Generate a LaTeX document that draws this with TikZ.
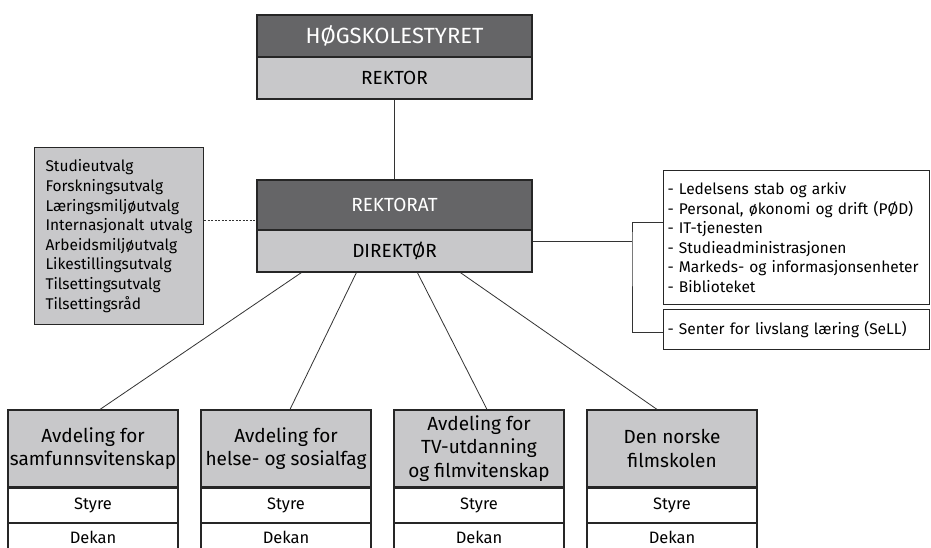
\documentclass[tikz,border=0pt]{standalone}
\usepackage{fontspec}
\setmainfont{Fira Sans}
\usepackage{tikz}
\usetikzlibrary{calc}
\usetikzlibrary{positioning}
\definecolor{darkgrey}{HTML}{656567}
\definecolor{lightgrey}{HTML}{C8C8CA}
\tikzset{%
  every unit/.style={
    rectangle,
    draw=black!85,
    line width=1.2pt,
    inner sep=0pt,
    align=center
  },
  unit head/.style={
    fill=darkgrey,
    text=white,
    font=\fontsize{22}{26}\selectfont
  },
  unit sub/.style={
    fill=lightgrey,
    font=\fontsize{19}{23}\selectfont
  },
  dept head/.style={
    fill=lightgrey,
    minimum width=170pt,
    minimum height=77pt,
    font=\fontsize{19}{23.5}\selectfont
  },
  dept row/.style={
    fill=white,
    minimum width=170pt,
    minimum height=34pt,
    font=\fontsize{16.5}{19}\selectfont
  },
  list box/.style={
    rectangle,
    draw=black!85,
    line width=1pt,
    align=left,
    anchor=north west,
    inner ysep=0pt,
    font=\fontsize{15.5}{19.6}\selectfont
  },
  link/.style={
    draw=black!80,
    line width=0.8pt
  }
}

\begin{document}
\begin{tikzpicture}[x=1pt, y=-1pt]

    \clip (0,0) rectangle (931,547);
    \fill[white] (0,0) rectangle (931,547);

    % board and rector
    \node [every unit, unit head, minimum width=275pt, minimum height=42pt]
        (board) at (394.5,36) {HØGSKOLESTYRET};
    \node [every unit, unit sub, minimum width=275pt, minimum height=42pt]
        (rektor) at (394.5,78) {REKTOR};

    % rectorate and director
    \node [every unit, unit head, minimum width=275pt, minimum height=50pt,
        font=\fontsize{19}{23}\selectfont]
        (rektorat) at (394.5,205) {REKTORAT};
    \node [every unit, unit sub, minimum width=275pt, minimum height=42pt]
        (direktor) at (394.5,251) {DIREKTØR};

    \draw [link] (rektor.south) -- (rektorat.north);

    % committees
    \node [list box, fill=lightgrey, inner xsep=11pt, text width=147pt,
        minimum height=177pt]
        (committees) at (34,147) {Studieutvalg\\Forskningsutvalg\\Læringsmiljøutvalg\\
        \mbox{Internasjonalt utvalg}\\Arbeidsmiljøutvalg\\Likestillingsutvalg\\
        Tilsettingsutvalg\\Tilsettingsråd};
    \coordinate (comm-out) at ([yshift=15.5pt]committees.east);
    \draw [link, dashed, dash pattern=on 2pt off 1.5pt] (comm-out) -- (rektorat.west |- comm-out);

    % staff units
    \node [list box, fill=white, inner xsep=4pt, text width=258pt,
        minimum height=134pt]
        (staff) at (663,170) {- Ledelsens stab og arkiv\\- Personal, økonomi og drift (PØD)\\
        - IT-tjenesten\\- Studieadministrasjonen\\\mbox{- Markeds- og informasjonsenheter}\\
        - Biblioteket};
    \node [list box, fill=white, inner xsep=4pt, text width=258pt,
        minimum height=40pt]
        (sell) at (663,309) {- Senter for livslang læring (SeLL)};

    \coordinate (dir-out) at ([yshift=10pt]direktor.east);
    \coordinate (fork) at (632,241);
    \draw [link] (dir-out) -- (fork);
    \draw [link] ([yshift=15pt]staff.west) -| (fork) |- ([yshift=-3pt]sell.west);

    % departments
    \foreach \t [count=\i] in {{Avdeling for\\samfunnsvitenskap},
        {Avdeling for\\helse- og sosialfag},
        {Avdeling for\\TV-utdanning\\og filmvitenskap},
        {Den norske\\filmskolen}}
    {
    \node [every unit, dept head] (dept-\i) at (93+193*\i-193,448.5) {\t};
    \node [every unit, dept row, below=0pt of dept-\i] (styre-\i) {Styre};
    \node [every unit, dept row, minimum height=27.5pt, below=0pt of styre-\i] (dekan-\i) {Dekan};
    }

    \foreach \s/\e [count=\i] in {45/7, 100/4, 161/8, 204/-15}
        \draw [link] ([xshift=\s pt]direktor.south west) -- ([xshift=\e pt]dept-\i.north);

\end{tikzpicture}
\end{document}
